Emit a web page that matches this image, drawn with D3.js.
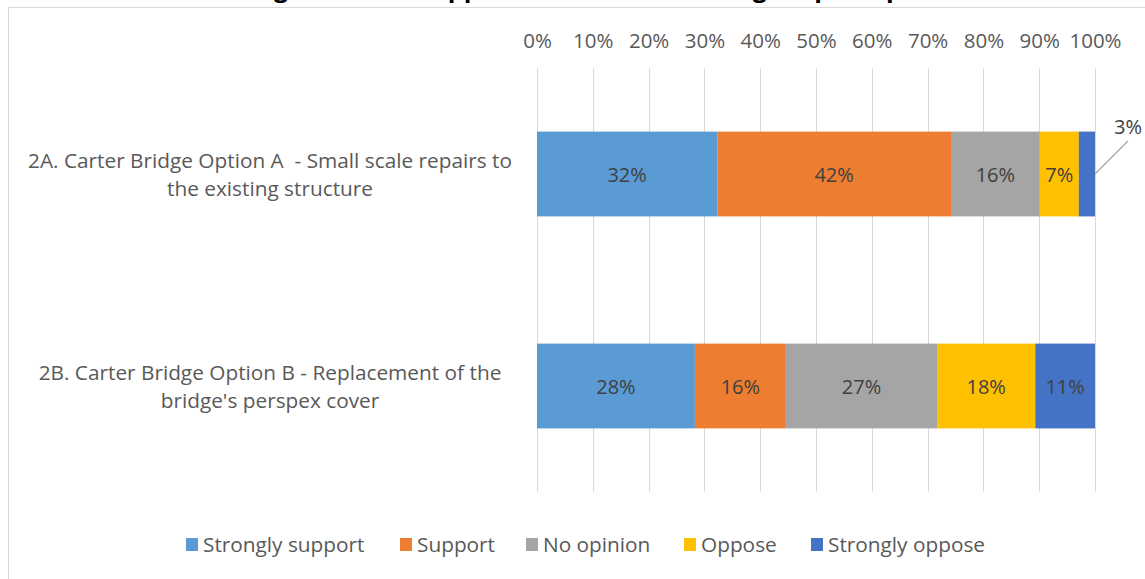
<!DOCTYPE html>
<html>
<head>
<meta charset="utf-8">
<script src="https://cdn.jsdelivr.net/npm/d3@7"></script>
<style>
  html, body { margin: 0; padding: 0; background: #fff; }
  svg { display: block; }
  text { font-family: "Open Sans", Lato, sans-serif; white-space: pre; }
</style>
</head>
<body>
<svg id="chart" width="1145" height="579"></svg>
<script>
const title = "Level of agreement / support for the Carter Bridge repair options";
const categories = [
  ["2A. Carter Bridge Option A  - Small scale repairs to", "the existing structure"],
  ["2B. Carter Bridge Option B - Replacement of the", "bridge's perspex cover"]
];
const seriesNames = ["Strongly support", "Support", "No opinion", "Oppose", "Strongly oppose"];
const colors = ["#5b9bd5", "#ed7d31", "#a5a5a5", "#ffc000", "#4472c4"];
const optionA = [32.3, 41.9, 15.9, 7.0, 2.9];
const optionB = [28.3, 16.3, 27.1, 17.6, 10.7];
const tickValues = [0, 10, 20, 30, 40, 50, 60, 70, 80, 90, 100];

const values = [optionA, optionB];
const svg = d3.select("#chart");
const W = 1145, H = 579;
const FONT = "'Open Sans', Lato, sans-serif";

// chart border
svg.append("rect").attr("x", 8.5).attr("y", 7.5).attr("width", W + 20).attr("height", H + 20)
  .attr("fill", "none").attr("stroke", "#d9d9d9").attr("stroke-width", 1);

// title (mostly cropped at top, as in the reference)
svg.append("text").attr("x", 560).attr("y", -3).attr("text-anchor", "middle")
  .attr("font-size", 25).attr("font-weight", "bold").attr("fill", "#000").text(title);

const x = d3.scaleLinear().domain([0, 100]).range([537, 1095]);
const y = d3.scaleBand().domain(d3.range(categories.length)).range([68, 492]).paddingInner(0.6).paddingOuter(0.3);

// gridlines
svg.append("g").selectAll("line").data(tickValues).join("line")
  .attr("x1", d => Math.round(x(d)) + 0.5).attr("x2", d => Math.round(x(d)) + 0.5)
  .attr("y1", 68).attr("y2", 492)
  .attr("stroke", "#d9d9d9").attr("stroke-width", 1);

// top axis labels
const axis = d3.axisTop(x).tickValues(tickValues).tickFormat(d => d + "%").tickSize(0).tickPadding(0);
const ag = svg.append("g").attr("transform", "translate(0,48)").call(axis);
ag.select(".domain").remove();
ag.selectAll("text").attr("font-family", FONT).attr("font-size", 20.5).attr("fill", "#595959");

// category labels
categories.forEach((lines, i) => {
  const cy = y(i) + y.bandwidth() / 2;
  const t = svg.append("text").attr("text-anchor", "middle").attr("font-size", 20.8).attr("fill", "#595959");
  lines.forEach((ln, j) => {
    t.append("tspan").attr("x", 270).attr("y", cy - 6 + j * 28).text(ln);
  });
});

// bars
const fmt = d3.format(".0%");
values.forEach((vals, i) => {
  let cum = 0;
  const segs = vals.map((v, k) => { const s = { k, v, x0: cum, x1: cum + v }; cum += v; return s; });
  const g = svg.append("g");
  g.selectAll("rect").data(segs).join("rect")
    .attr("x", d => x(d.x0)).attr("width", d => x(d.x1) - x(d.x0))
    .attr("y", y(i)).attr("height", y.bandwidth())
    .attr("fill", d => colors[d.k]);
  g.selectAll("text").data(segs.filter(d => d.v >= 5)).join("text")
    .attr("x", d => (x(d.x0) + x(d.x1)) / 2)
    .attr("y", y(i) + y.bandwidth() / 2 + 8)
    .attr("text-anchor", "middle").attr("font-size", 20).attr("fill", "#404040")
    .text(d => fmt(d.v / 100));
  // small segment labels with leader line
  segs.filter(d => d.v < 5).forEach(d => {
    const bx = x(d.x1), by = y(i) + y.bandwidth() / 2;
    g.append("line").attr("x1", bx).attr("y1", by).attr("x2", bx + 33).attr("y2", by - 33)
      .attr("stroke", "#a6a6a6").attr("stroke-width", 1.3);
    g.append("text").attr("x", bx + 33).attr("y", by - 40).attr("text-anchor", "middle")
      .attr("font-size", 20).attr("fill", "#404040").text(fmt(d.v / 100));
  });
});

// legend
const legendX = [186, 400, 526, 684, 811];
const lg = svg.append("g");
seriesNames.forEach((n, k) => {
  lg.append("rect").attr("x", legendX[k]).attr("y", 538).attr("width", 12).attr("height", 13).attr("fill", colors[k]);
  lg.append("text").attr("x", legendX[k] + 17).attr("y", 552).attr("font-size", 20.8).attr("fill", "#595959").text(n);
});
</script>
</body>
</html>
